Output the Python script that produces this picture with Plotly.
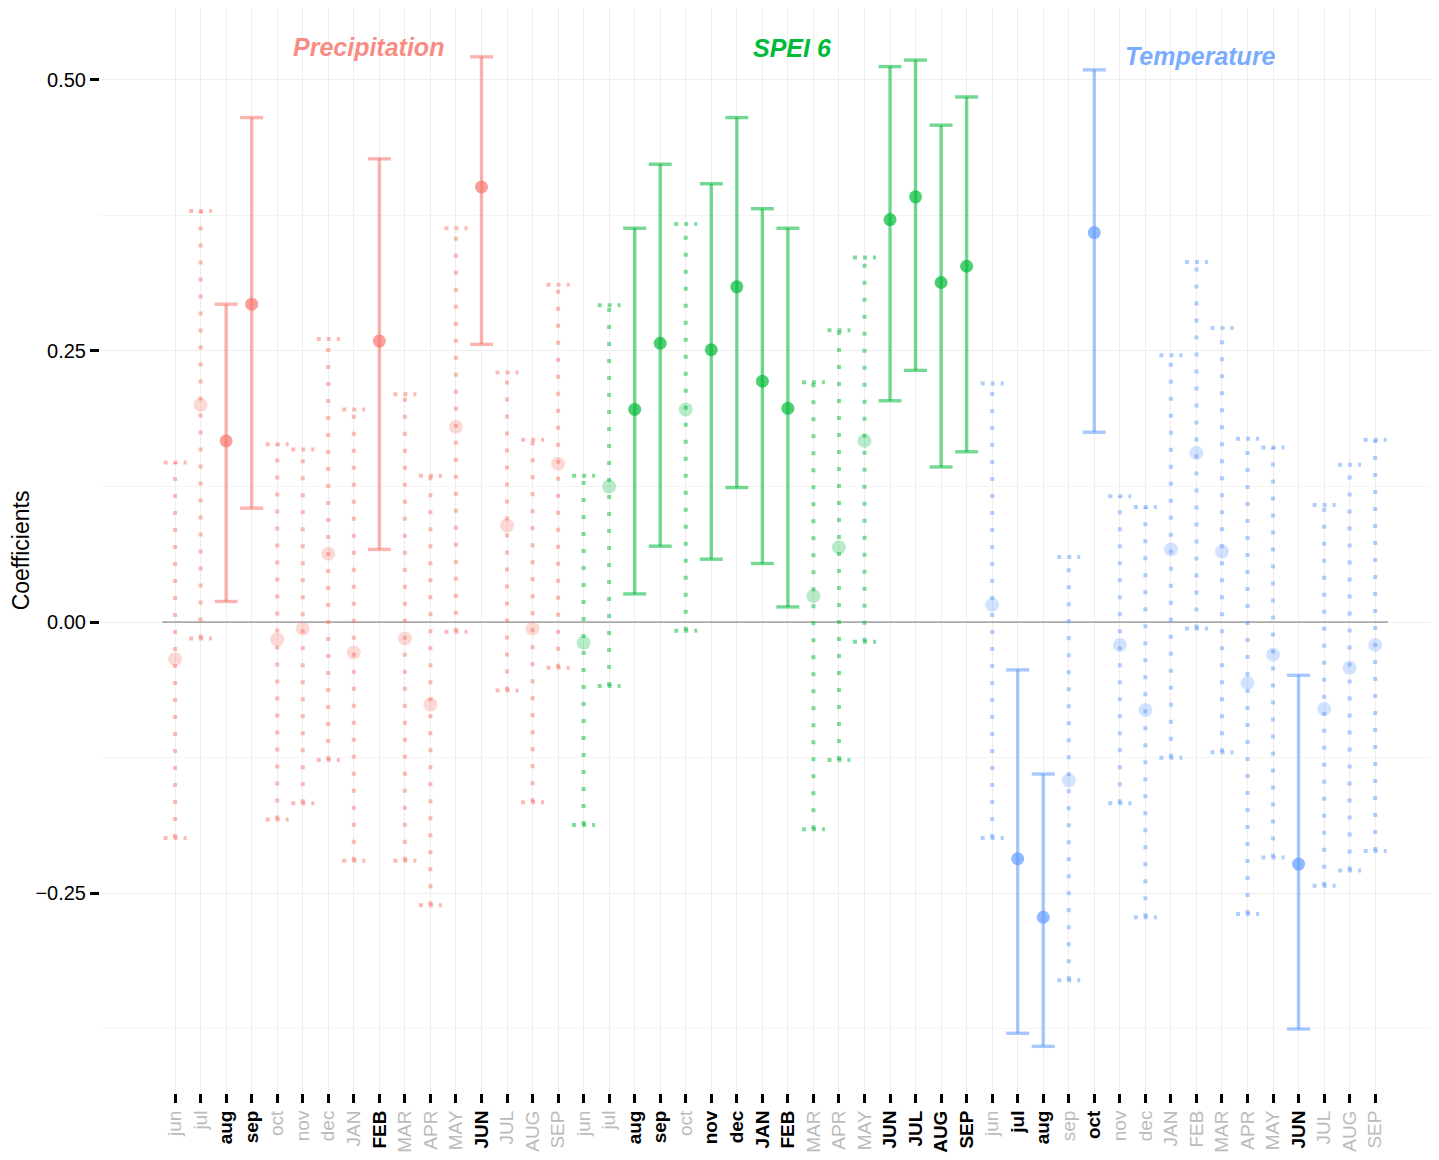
import plotly.graph_objects as go

months = ["jun", "jul", "aug", "sep", "oct", "nov", "dec", "JAN", "FEB", "MAR",
          "APR", "MAY", "JUN", "JUL", "AUG", "SEP"]
groups = ["Precipitation", "SPEI 6", "Temperature"]

precip_est = [-0.034, 0.200, 0.167, 0.293, -0.016, -0.006, 0.063, -0.028, 0.259, -0.015,
              -0.076, 0.180, 0.401, 0.089, -0.006, 0.146]
precip_hi = [0.147, 0.379, 0.293, 0.465, 0.164, 0.159, 0.261, 0.196, 0.427, 0.210,
             0.135, 0.363, 0.521, 0.230, 0.168, 0.311]
precip_lo = [-0.199, -0.015, 0.019, 0.105, -0.182, -0.167, -0.127, -0.220, 0.067, -0.220,
             -0.261, -0.009, 0.256, -0.063, -0.166, -0.042]

spei_est = [-0.019, 0.125, 0.196, 0.257, 0.196, 0.251, 0.309, 0.222, 0.197, 0.024,
            0.069, 0.167, 0.371, 0.392, 0.313, 0.328]
spei_hi = [0.135, 0.292, 0.363, 0.422, 0.367, 0.404, 0.465, 0.381, 0.363, 0.221,
           0.269, 0.336, 0.512, 0.518, 0.458, 0.484]
spei_lo = [-0.187, -0.059, 0.026, 0.070, -0.008, 0.058, 0.124, 0.054, 0.014, -0.191,
           -0.127, -0.018, 0.204, 0.232, 0.143, 0.157]

temp_est = [0.016, -0.218, -0.272, -0.146, 0.359, -0.021, -0.081, 0.067, 0.156, 0.065,
            -0.056, -0.030, -0.223, -0.080, -0.042, -0.021]
temp_hi = [0.220, -0.044, -0.140, 0.060, 0.509, 0.116, 0.106, 0.246, 0.332, 0.271,
           0.169, 0.161, -0.049, 0.108, 0.145, 0.168]
temp_lo = [-0.199, -0.379, -0.391, -0.330, 0.175, -0.167, -0.272, -0.125, -0.006, -0.120,
           -0.269, -0.217, -0.375, -0.243, -0.229, -0.211]

y_ticks = [-0.25, 0.0, 0.25, 0.50]
y_ticklabels = ["\u22120.25", "0.00", "0.25", "0.50"]

colors = {"Precipitation": (248, 118, 109), "SPEI 6": (0, 186, 56), "Temperature": (97, 156, 255)}
data = {
    "Precipitation": (precip_est, precip_lo, precip_hi),
    "SPEI 6": (spei_est, spei_lo, spei_hi),
    "Temperature": (temp_est, temp_lo, temp_hi),
}
label_pos = {"Precipitation": (7.56, 0.530), "SPEI 6": (24.2, 0.529), "Temperature": (40.15, 0.522)}


def rgba(c, a):
    return f"rgba({c[0]},{c[1]},{c[2]},{a})"


fig = go.Figure()
n = len(months)
CAP = 0.45

all_x, ticktext = [], []
point_traces = []
for gi, g in enumerate(groups):
    est, lo, hi = data[g]
    c = colors[g]
    xs = [gi * n + i for i in range(n)]
    sig = [(l > 0) or (h < 0) for l, h in zip(lo, hi)]
    for kind in (True, False):
        vx, vy, cx, cy = [], [], [], []
        for x, l, h, s in zip(xs, lo, hi, sig):
            if s != kind:
                continue
            vx += [x, x, None]
            vy += [l, h, None]
            for yv in (l, h):
                cx += [x - CAP, x + CAP, None]
                cy += [yv, yv, None]
        if kind:
            fig.add_trace(go.Scatter(x=vx + cx, y=vy + cy, mode="lines",
                                     line=dict(color=rgba(c, 0.55), width=3.4),
                                     hoverinfo="skip", showlegend=False))
        else:
            fig.add_trace(go.Scatter(x=vx, y=vy, mode="lines",
                                     line=dict(color=rgba(c, 0.5), width=4, dash="4px,13px"),
                                     hoverinfo="skip", showlegend=False))
            fig.add_trace(go.Scatter(x=cx, y=cy, mode="lines",
                                     line=dict(color=rgba(c, 0.5), width=4, dash="4px,6px"),
                                     hoverinfo="skip", showlegend=False))
    point_traces.append(go.Scatter(
        x=xs, y=est, mode="markers",
        marker=dict(size=[13 if s else 14 for s in sig],
                    color=[rgba(c, 1.0) if s else rgba(c, 0.4) for s in sig],
                    line=dict(width=0)),
        showlegend=False, name=g))
    all_x += xs
    for m, s in zip(months, sig):
        if s:
            ticktext.append(f"<b>{m}</b>")
        else:
            ticktext.append(f"<span style='color:#BBBBBB'>{m}</span>")
    lx, ly = label_pos[g]
    fig.add_annotation(x=lx, y=ly, text=f"<b><i>{g}</i></b>", showarrow=False,
                       font=dict(size=25, color=rgba(c, 0.85 if g != "SPEI 6" else 1.0),
                                 family="Liberation Sans, Arial"),
                       xref="x", yref="y")

for t in point_traces:
    fig.add_trace(t)

# zero reference line (drawn first)
fig.add_trace(go.Scatter(x=[all_x[0] - 0.5, all_x[-1] + 0.5], y=[0, 0], mode="lines",
                         line=dict(color="#AAAAAA", width=1.6), hoverinfo="skip",
                         showlegend=False))
fig.data = (fig.data[-1],) + fig.data[:-1]

fig.update_layout(
    width=1431, height=1152,
    margin=dict(l=92, r=0, t=0, b=67),
    plot_bgcolor="white", paper_bgcolor="white",
    font=dict(family="Liberation Sans, Arial", color="black"),
    xaxis=dict(
        range=[-2.94, 49.5], tickmode="array", tickvals=all_x, ticktext=ticktext,
        tickangle=-90, tickfont=dict(size=19, color="black"),
        ticks="outside", ticklen=9, tickwidth=2.8, tickcolor="black",
        showgrid=True, gridcolor="#EEEEEE", gridwidth=1, zeroline=False,
        showline=False, automargin=False,
    ),
    yaxis=dict(
        range=[-0.434, 0.566], tickmode="array", tickvals=y_ticks, ticktext=y_ticklabels,
        tickfont=dict(size=20, color="black"),
        ticks="outside", ticklen=9, tickwidth=2.8, tickcolor="black",
        showgrid=True, gridcolor="#EEEEEE", gridwidth=1, zeroline=False,
        showline=False, automargin=False,
        minor=dict(tickvals=[-0.375, -0.125, 0.125, 0.375], showgrid=True,
                   gridcolor="#F5F5F5", ticks=""),
        title=dict(text="Coefficients", font=dict(size=23), standoff=20),
    ),
)

fig.write_html("out.html")
